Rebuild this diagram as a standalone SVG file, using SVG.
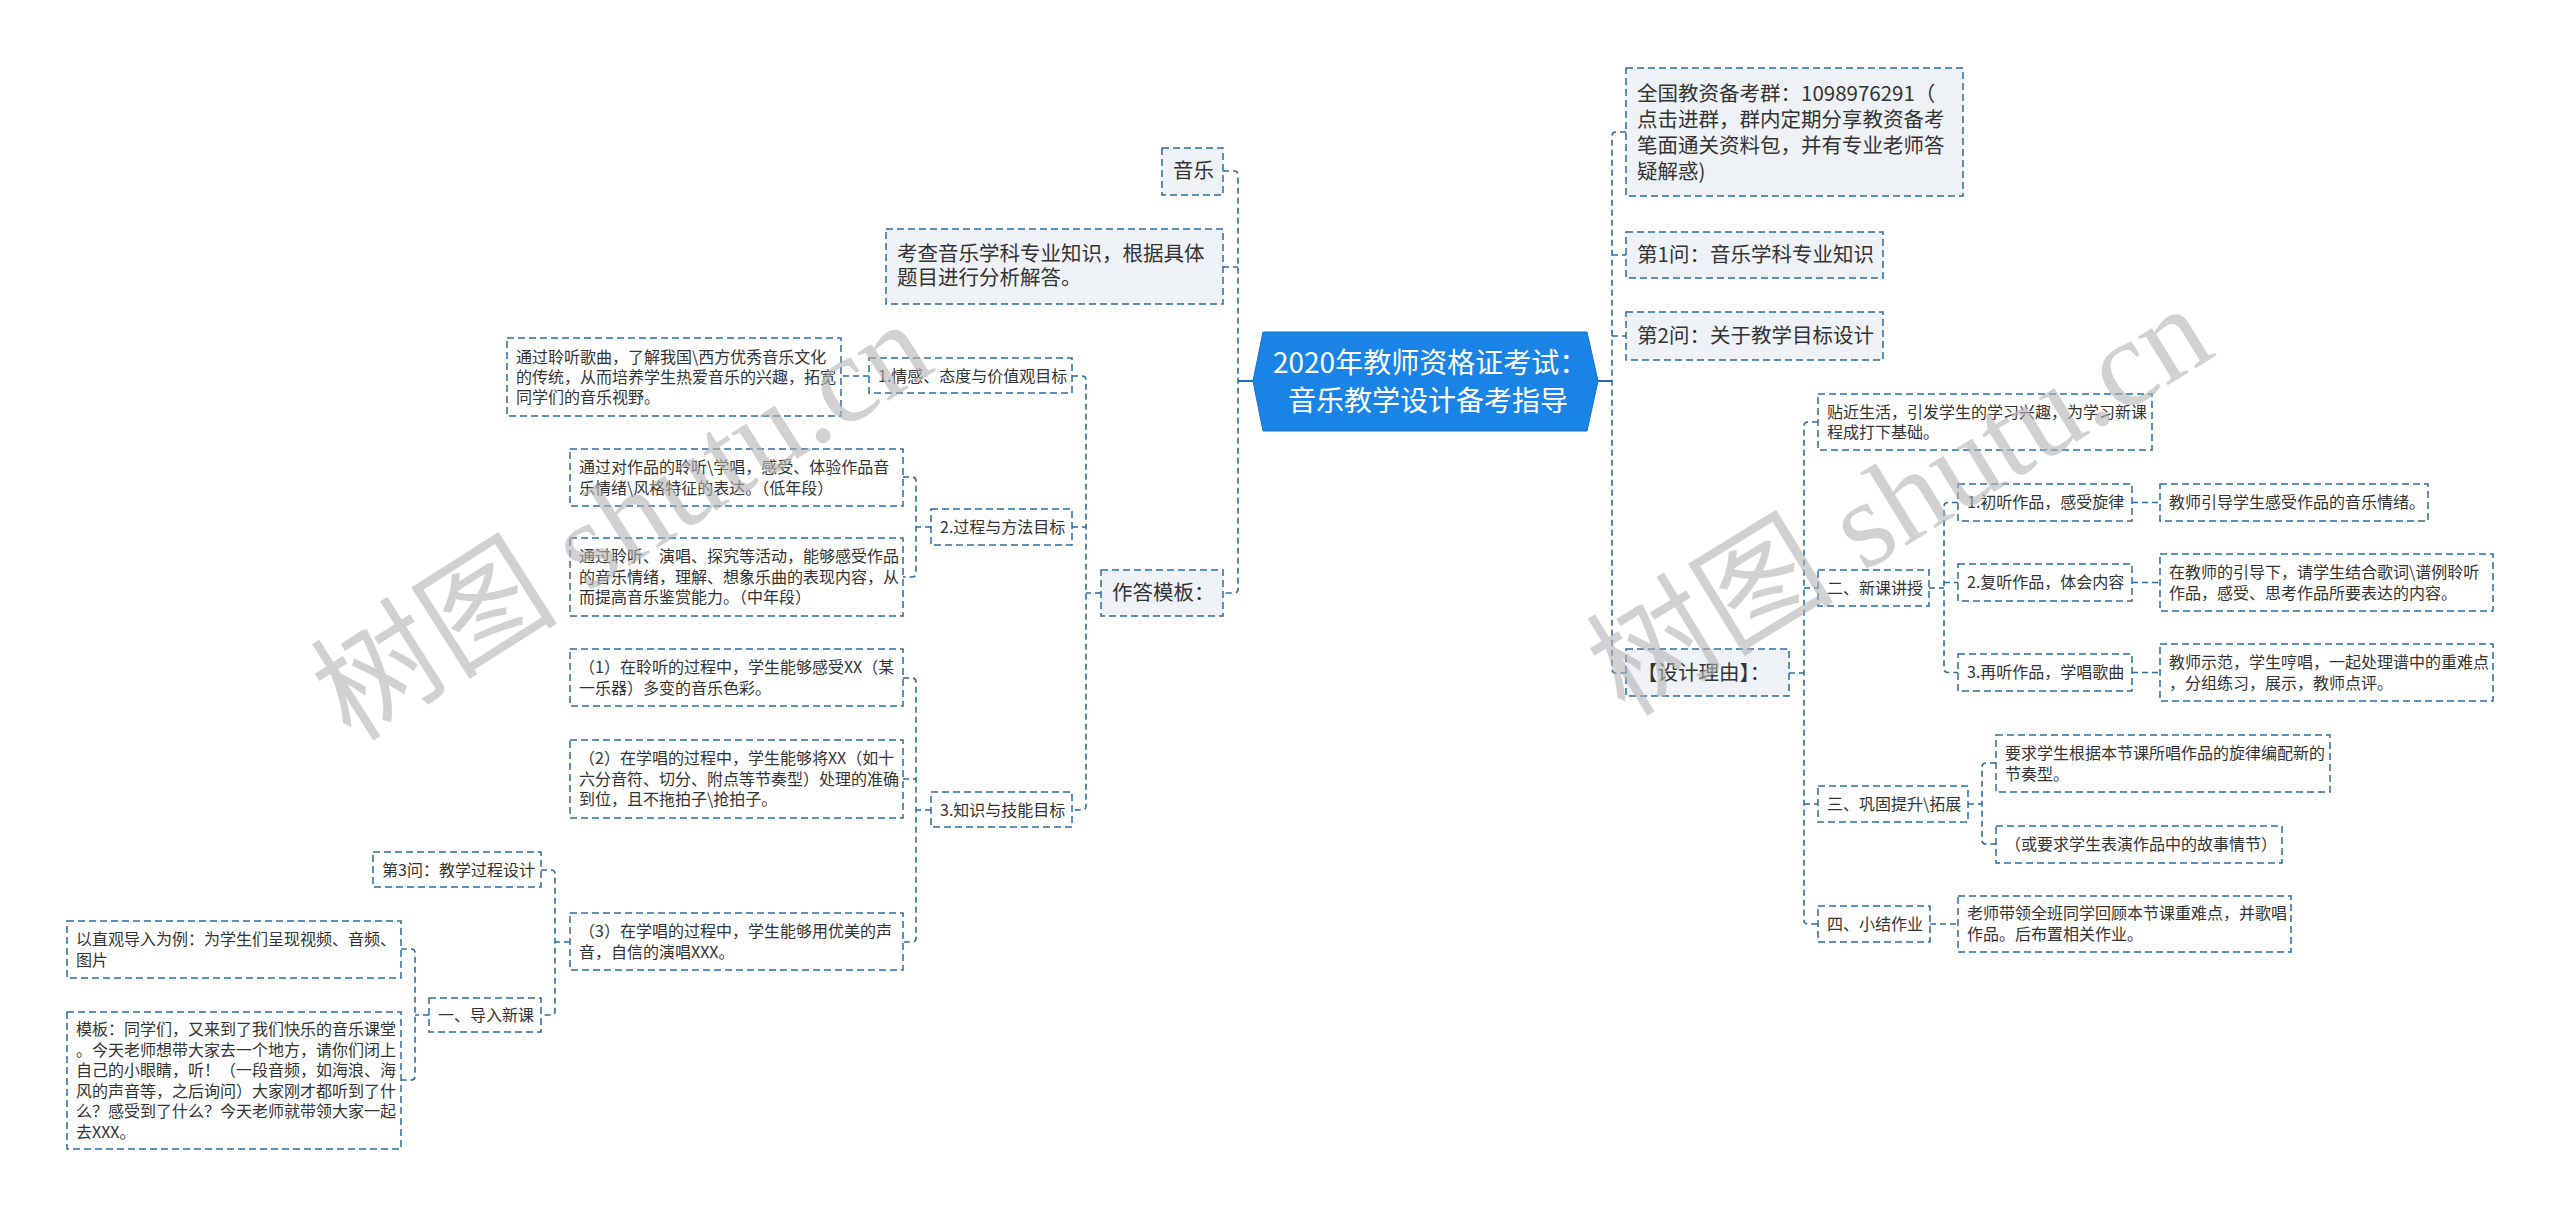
<svg xmlns="http://www.w3.org/2000/svg" width="2560" height="1218" viewBox="0 0 2560 1218">
<style>
.n rect{fill:#ffffff;stroke:#2b6ca3;stroke-width:1.5;stroke-dasharray:7 4}
.l1 rect{fill:#eef1f5}
text{font-family:"Noto Sans CJK SC","Microsoft YaHei",sans-serif;fill:#333333}
.s{font-size:16px}
.m{font-size:20.5px}
.ct{font-size:28px;fill:#ffffff}
.c path{fill:none;stroke:#2b6ca3;stroke-width:1.6;stroke-dasharray:6 4}
.c path.solid{stroke:#1a6fc0;stroke-dasharray:none;stroke-width:2}
.wm{font-family:"Liberation Serif","Noto Sans CJK SC",serif;font-size:124px;fill:#b4b4b4;opacity:0.6}
</style>
<rect x="0" y="0" width="2560" height="1218" fill="#ffffff"/>
<g class="c" id="connectors">
<path class="solid" d="M1253,381 H1238"/>
<path d="M1223,171 H1234 Q1238,171 1238,175 V589 Q1238,593 1234,593 H1223"/>
<path d="M1223,267 H1238"/>
<path d="M1101,593 H1086"/>
<path d="M1072,376 H1082 Q1086,376 1086,380 V806 Q1086,810 1082,810 H1072"/>
<path d="M1072,527 H1086"/>
<path d="M869,376 H841"/>
<path d="M931,527 H916"/>
<path d="M903,477 H912 Q916,477 916,481 V573 Q916,577 912,577 H903"/>
<path d="M931,810 H916"/>
<path d="M903,678 H912 Q916,678 916,682 V938 Q916,942 912,942 H903"/>
<path d="M903,779 H916"/>
<path d="M570,942 H555"/>
<path d="M541,870 H551 Q555,870 555,874 V1011 Q555,1015 551,1015 H541"/>
<path d="M429,1015 H415"/>
<path d="M401,949 H411 Q415,949 415,953 V1076 Q415,1080 411,1080 H401"/>
<path class="solid" d="M1598,381 H1612"/>
<path d="M1626,132 H1616 Q1612,132 1612,136 V669 Q1612,673 1616,673 H1626"/>
<path d="M1612,255 H1626"/>
<path d="M1612,336 H1626"/>
<path d="M1789,673 H1804"/>
<path d="M1818,422 H1808 Q1804,422 1804,426 V920 Q1804,924 1808,924 H1818"/>
<path d="M1804,588 H1818"/>
<path d="M1804,804 H1818"/>
<path d="M1929,588 H1944"/>
<path d="M1958,502.5 H1948 Q1944,502.5 1944,506.5 V668.5 Q1944,672.5 1948,672.5 H1958"/>
<path d="M1944,582.5 H1958"/>
<path d="M2132,502.5 H2160"/>
<path d="M2132,582.5 H2160"/>
<path d="M2132,672.5 H2160"/>
<path d="M1968,804 H1982"/>
<path d="M1996,763 H1986 Q1982,763 1982,767 V840 Q1982,844 1986,844 H1996"/>
<path d="M1930,924 H1958"/>
</g>
<g id="root">
<polygon points="1263,332 1587,332 1598,381 1587,431 1263,431 1253,381" fill="#1a84e6" stroke="#1670c8" stroke-width="1"/>
<text class="ct" x="1273" y="373">2020年教师资格证考试：</text>
<text class="ct" x="1288" y="411">音乐教学设计备考指导</text>
</g>
<g id="n-yinyue" class="n l1"><rect x="1162" y="148" width="61" height="47"/><text class="m" x="1173" y="178.4">音乐</text></g>
<g id="n-kaocha" class="n l1"><rect x="886" y="229" width="337" height="75"/><text class="m" x="897" y="261.4">考查音乐学科专业知识，根据具体</text><text class="m" x="897" y="285.4">题目进行分析解答。</text></g>
<g id="n-zuoda" class="n l1"><rect x="1101" y="570" width="122" height="46"/><text class="m" x="1112" y="600.4">作答模板：</text></g>
<g id="n-qinggan" class="n"><rect x="869" y="358" width="203" height="35"/><text class="s" x="878" y="381.8">1.情感、态度与价值观目标</text></g>
<g id="n-qinggan-1" class="n"><rect x="507" y="338" width="334" height="78"/><text class="s" x="516" y="362.8">通过聆听歌曲，了解我国\西方优秀音乐文化</text><text class="s" x="516" y="382.8">的传统，从而培养学生热爱音乐的兴趣，拓宽</text><text class="s" x="516" y="402.8">同学们的音乐视野。</text></g>
<g id="n-guocheng" class="n"><rect x="931" y="509" width="141" height="36"/><text class="s" x="940" y="532.8">2.过程与方法目标</text></g>
<g id="n-guocheng-1" class="n"><rect x="570" y="449" width="333" height="57"/><text class="s" x="579" y="473.3">通过对作品的聆听\学唱，感受、体验作品音</text><text class="s" x="579" y="493.8">乐情绪\风格特征的表达。（低年段）</text></g>
<g id="n-guocheng-2" class="n"><rect x="570" y="538" width="333" height="78"/><text class="s" x="579" y="562.3">通过聆听、演唱、探究等活动，能够感受作品</text><text class="s" x="579" y="582.8">的音乐情绪，理解、想象乐曲的表现内容，从</text><text class="s" x="579" y="603.3">而提高音乐鉴赏能力。（中年段）</text></g>
<g id="n-zhishi" class="n"><rect x="931" y="792" width="141" height="35"/><text class="s" x="940" y="815.8">3.知识与技能目标</text></g>
<g id="n-zhishi-1" class="n"><rect x="570" y="649" width="333" height="57"/><text class="s" x="579" y="673.3">（1）在聆听的过程中，学生能够感受XX（某</text><text class="s" x="579" y="693.8">一乐器）多变的音乐色彩。</text></g>
<g id="n-zhishi-2" class="n"><rect x="570" y="740" width="333" height="78"/><text class="s" x="579" y="764.3">（2）在学唱的过程中，学生能够将XX（如十</text><text class="s" x="579" y="784.8">六分音符、切分、附点等节奏型）处理的准确</text><text class="s" x="579" y="805.3">到位，且不拖拍子\抢拍子。</text></g>
<g id="n-zhishi-3" class="n"><rect x="570" y="913" width="333" height="57"/><text class="s" x="579" y="937.3">（3）在学唱的过程中，学生能够用优美的声</text><text class="s" x="579" y="957.8">音，自信的演唱XXX。</text></g>
<g id="n-q3" class="n"><rect x="373" y="852" width="168" height="35"/><text class="s" x="382" y="875.8">第3问：教学过程设计</text></g>
<g id="n-daoru" class="n"><rect x="429" y="998" width="112" height="34"/><text class="s" x="438" y="1020.8">一、导入新课</text></g>
<g id="n-daoru-1" class="n"><rect x="67" y="921" width="334" height="57"/><text class="s" x="76" y="945.3">以直观导入为例：为学生们呈现视频、音频、</text><text class="s" x="76" y="965.8">图片</text></g>
<g id="n-daoru-2" class="n"><rect x="67" y="1012" width="334" height="137"/><text class="s" x="76" y="1035.3">模板：同学们，又来到了我们快乐的音乐课堂</text><text class="s" x="76" y="1055.8">。今天老师想带大家去一个地方，请你们闭上</text><text class="s" x="76" y="1076.3">自己的小眼睛，听！（一段音频，如海浪、海</text><text class="s" x="76" y="1096.8">风的声音等，之后询问）大家刚才都听到了什</text><text class="s" x="76" y="1117.3">么？感受到了什么？今天老师就带领大家一起</text><text class="s" x="76" y="1137.8">去XXX。</text></g>
<g id="n-qun" class="n l1"><rect x="1626" y="68" width="337" height="128"/><text class="m" x="1637" y="101.4">全国教资备考群：1098976291（</text><text class="m" x="1637" y="127.4">点击进群，群内定期分享教资备考</text><text class="m" x="1637" y="153.4">笔面通关资料包，并有专业老师答</text><text class="m" x="1637" y="179.4">疑解惑)</text></g>
<g id="n-q1" class="n l1"><rect x="1626" y="232" width="257" height="46"/><text class="m" x="1637" y="262.4">第1问：音乐学科专业知识</text></g>
<g id="n-q2" class="n l1"><rect x="1626" y="312" width="257" height="48"/><text class="m" x="1637" y="343.4">第2问：关于教学目标设计</text></g>
<g id="n-liyou" class="n l1"><rect x="1626" y="649" width="163" height="47"/><text class="m" x="1637" y="680.4">【设计理由】：</text></g>
<g id="n-tiejin" class="n"><rect x="1818" y="394" width="334" height="56"/><text class="s" x="1827" y="417.8">贴近生活，引发学生的学习兴趣，为学习新课</text><text class="s" x="1827" y="438.3">程成打下基础。</text></g>
<g id="n-xinke" class="n"><rect x="1818" y="570" width="111" height="36"/><text class="s" x="1827" y="593.8">二、新课讲授</text></g>
<g id="n-gonggu" class="n"><rect x="1818" y="786" width="150" height="36"/><text class="s" x="1827" y="809.8">三、巩固提升\拓展</text></g>
<g id="n-xiaojie" class="n"><rect x="1818" y="906" width="112" height="36"/><text class="s" x="1827" y="929.8">四、小结作业</text></g>
<g id="n-chuting" class="n"><rect x="1958" y="484" width="174" height="37"/><text class="s" x="1967" y="508.3">1.初听作品，感受旋律</text></g>
<g id="n-chuting-1" class="n"><rect x="2160" y="484" width="268" height="37"/><text class="s" x="2169" y="508.3">教师引导学生感受作品的音乐情绪。</text></g>
<g id="n-futing" class="n"><rect x="1958" y="564" width="174" height="37"/><text class="s" x="1967" y="588.3">2.复听作品，体会内容</text></g>
<g id="n-futing-1" class="n"><rect x="2160" y="554" width="333" height="57"/><text class="s" x="2169" y="578.3">在教师的引导下，请学生结合歌词\谱例聆听</text><text class="s" x="2169" y="598.8">作品，感受、思考作品所要表达的内容。</text></g>
<g id="n-zaiting" class="n"><rect x="1958" y="654" width="174" height="37"/><text class="s" x="1967" y="678.3">3.再听作品，学唱歌曲</text></g>
<g id="n-zaiting-1" class="n"><rect x="2160" y="644" width="333" height="57"/><text class="s" x="2169" y="668.3">教师示范，学生哼唱，一起处理谱中的重难点</text><text class="s" x="2169" y="688.8">，分组练习，展示，教师点评。</text></g>
<g id="n-gonggu-1" class="n"><rect x="1996" y="735" width="334" height="57"/><text class="s" x="2005" y="759.3">要求学生根据本节课所唱作品的旋律编配新的</text><text class="s" x="2005" y="779.8">节奏型。</text></g>
<g id="n-gonggu-2" class="n"><rect x="1996" y="826" width="286" height="37"/><text class="s" x="2005" y="850.3">（或要求学生表演作品中的故事情节）</text></g>
<g id="n-xiaojie-1" class="n"><rect x="1958" y="896" width="333" height="56"/><text class="s" x="1967" y="919.3">老师带领全班同学回顾本节课重难点，并歌唱</text><text class="s" x="1967" y="939.8">作品。后布置相关作业。</text></g>
<g id="watermarks">
<text class="wm" x="351" y="743" transform="rotate(-32.5 351 743)">树图 shutu.cn</text>
<text class="wm" x="1625" y="718" transform="rotate(-31.5 1625 718)">树图 shutu.cn</text>
</g>
</svg>
